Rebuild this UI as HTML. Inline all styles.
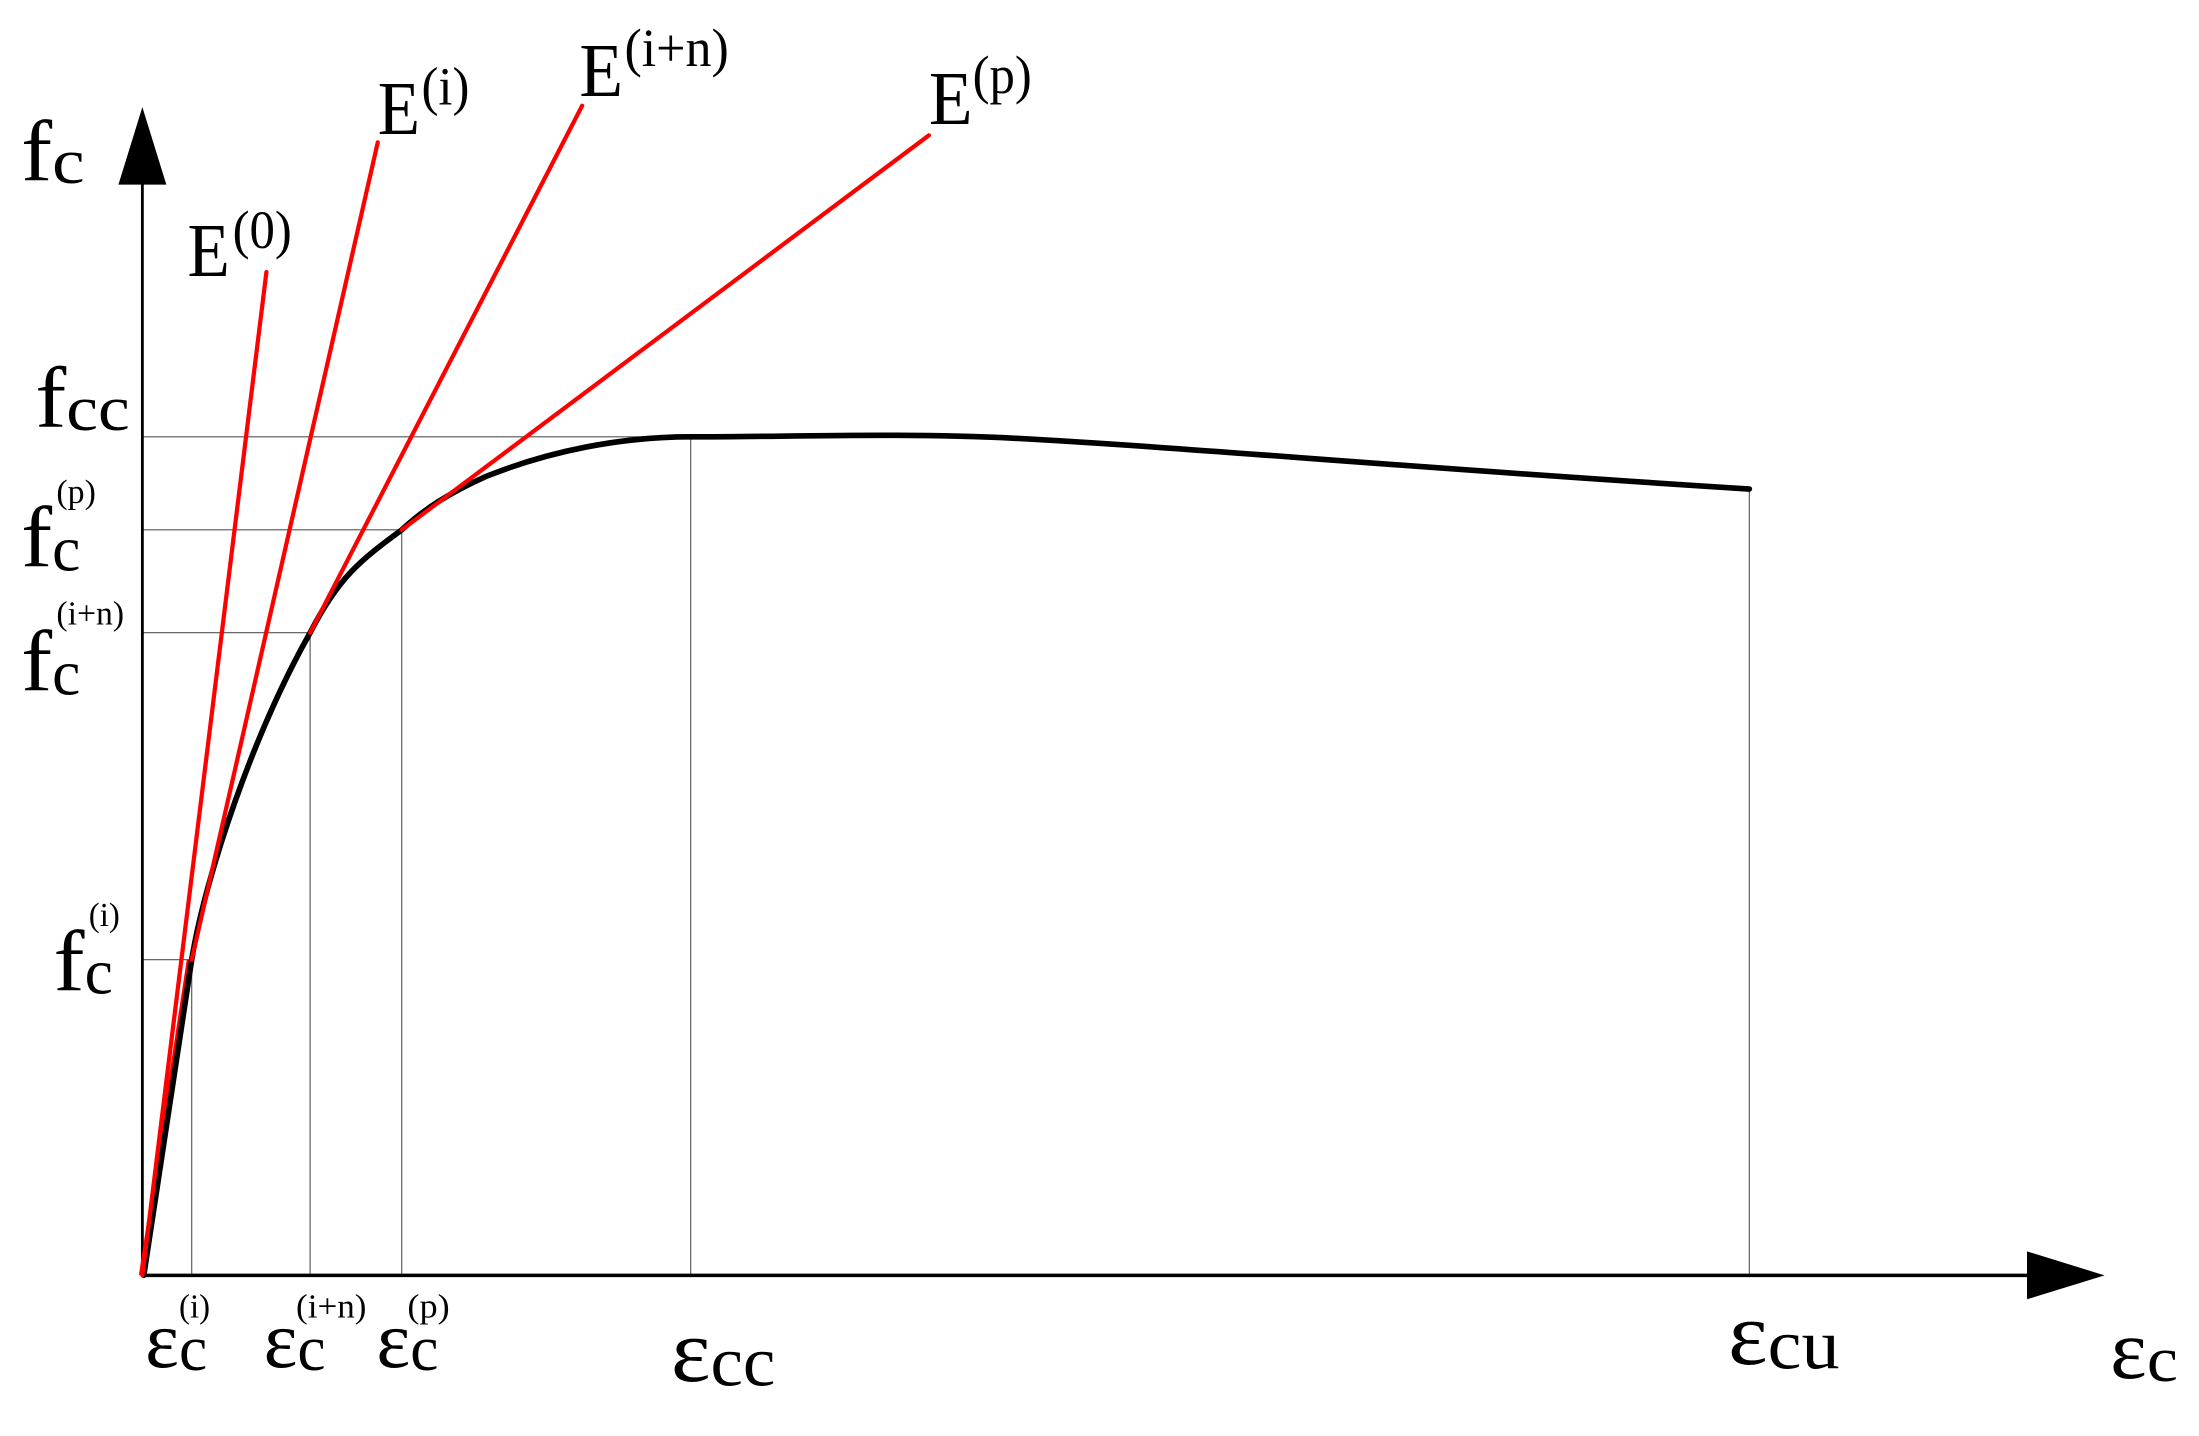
<!DOCTYPE html>
<html><head><meta charset="utf-8"><style>
html,body{margin:0;padding:0;background:#fff;}
svg{display:block;}
text{font-family:"Liberation Serif",serif;fill:#000;}
</style></head><body>
<svg width="2199" height="1436" viewBox="0 0 1560 1019" preserveAspectRatio="none" xmlns="http://www.w3.org/2000/svg">
<g stroke="#555" stroke-width="0.8" fill="none">
<line x1="101" y1="310" x2="490" y2="310"/>
<line x1="490" y1="310" x2="490" y2="905"/>
<line x1="101" y1="376" x2="285" y2="376"/>
<line x1="285" y1="376" x2="285" y2="905"/>
<line x1="101" y1="449" x2="220" y2="449"/>
<line x1="220" y1="449" x2="220" y2="905"/>
<line x1="101" y1="681" x2="136" y2="681"/>
<line x1="136" y1="681" x2="136" y2="905"/>
<line x1="1241" y1="347" x2="1241" y2="905"/>
</g>
<line x1="101" y1="905" x2="101" y2="128" stroke="#000" stroke-width="2"/>
<polygon points="84,131 118,131 101,76" fill="#000"/>
<line x1="101" y1="905" x2="1440" y2="905" stroke="#000" stroke-width="2.5"/>
<polygon points="1438,888 1438,922 1493,905" fill="#000"/>
<line x1="100" y1="905" x2="134" y2="681" stroke="#f00" stroke-width="3"/>
<path d="M102,905 L136,681 C146,620 180,520 220,449 C240,410 255,398 285,376 C300,362 318,350 345,338 C390,320 440,310 490,310 C560,310 640,307 720,311 C850,318 1000,332 1241,347" stroke="#000" stroke-width="4" fill="none" stroke-linecap="round"/>
<g stroke="#f00" stroke-width="3" fill="none" stroke-linecap="round">
<line x1="101" y1="905" x2="189" y2="193"/>
<line x1="136" y1="681" x2="268" y2="101"/>
<line x1="220" y1="449" x2="413" y2="75"/>
<line x1="285" y1="376" x2="659" y2="96"/>
</g>
<g>
<text x="15" y="128" font-size="62" textLength="22" lengthAdjust="spacingAndGlyphs">f</text><text x="37" y="130" font-size="46" textLength="23" lengthAdjust="spacingAndGlyphs">c</text>
<text x="133" y="196" font-size="54" textLength="30" lengthAdjust="spacingAndGlyphs">E</text><text x="165" y="176" font-size="38" textLength="42" lengthAdjust="spacingAndGlyphs">(0)</text>
<text x="268" y="95" font-size="54" textLength="30" lengthAdjust="spacingAndGlyphs">E</text><text x="299" y="74" font-size="38" textLength="34" lengthAdjust="spacingAndGlyphs">(i)</text>
<text x="411" y="68" font-size="54" textLength="31" lengthAdjust="spacingAndGlyphs">E</text><text x="443" y="47" font-size="38" textLength="74" lengthAdjust="spacingAndGlyphs">(i+n)</text>
<text x="659" y="88" font-size="54" textLength="31" lengthAdjust="spacingAndGlyphs">E</text><text x="690" y="66" font-size="38" textLength="42" lengthAdjust="spacingAndGlyphs">(p)</text>
<text x="25" y="303" font-size="62" textLength="22" lengthAdjust="spacingAndGlyphs">f</text><text x="47" y="305" font-size="46" textLength="45" lengthAdjust="spacingAndGlyphs">cc</text>
<text x="15" y="402" font-size="62" textLength="22" lengthAdjust="spacingAndGlyphs">f</text><text x="37" y="405" font-size="46" textLength="20" lengthAdjust="spacingAndGlyphs">c</text><text x="40" y="357" font-size="24" textLength="28" lengthAdjust="spacingAndGlyphs">(p)</text>
<text x="15" y="490" font-size="62" textLength="22" lengthAdjust="spacingAndGlyphs">f</text><text x="37" y="493" font-size="46" textLength="20" lengthAdjust="spacingAndGlyphs">c</text><text x="40" y="443" font-size="24" textLength="48" lengthAdjust="spacingAndGlyphs">(i+n)</text>
<text x="38" y="703" font-size="62" textLength="22" lengthAdjust="spacingAndGlyphs">f</text><text x="60" y="705" font-size="46" textLength="20" lengthAdjust="spacingAndGlyphs">c</text><text x="63" y="657" font-size="24" textLength="22" lengthAdjust="spacingAndGlyphs">(i)</text>
<text x="103" y="970" font-size="58" textLength="24" lengthAdjust="spacingAndGlyphs">ε</text><text x="127" y="972" font-size="46" textLength="20" lengthAdjust="spacingAndGlyphs">c</text><text x="127" y="935" font-size="24" textLength="22" lengthAdjust="spacingAndGlyphs">(i)</text>
<text x="187" y="970" font-size="58" textLength="24" lengthAdjust="spacingAndGlyphs">ε</text><text x="211" y="972" font-size="46" textLength="20" lengthAdjust="spacingAndGlyphs">c</text><text x="210" y="935" font-size="24" textLength="50" lengthAdjust="spacingAndGlyphs">(i+n)</text>
<text x="267" y="970" font-size="58" textLength="24" lengthAdjust="spacingAndGlyphs">ε</text><text x="291" y="972" font-size="46" textLength="20" lengthAdjust="spacingAndGlyphs">c</text><text x="289" y="935" font-size="24" textLength="30" lengthAdjust="spacingAndGlyphs">(p)</text>
<text x="476" y="980" font-size="64" textLength="28" lengthAdjust="spacingAndGlyphs">ε</text><text x="504" y="983" font-size="50" textLength="46" lengthAdjust="spacingAndGlyphs">cc</text>
<text x="1226" y="968" font-size="64" textLength="28" lengthAdjust="spacingAndGlyphs">ε</text><text x="1254" y="971" font-size="50" textLength="51" lengthAdjust="spacingAndGlyphs">cu</text>
<text x="1497" y="978" font-size="60" textLength="26" lengthAdjust="spacingAndGlyphs">ε</text><text x="1523" y="980" font-size="46" textLength="22" lengthAdjust="spacingAndGlyphs">c</text>
</g>
</svg>
</body></html>
